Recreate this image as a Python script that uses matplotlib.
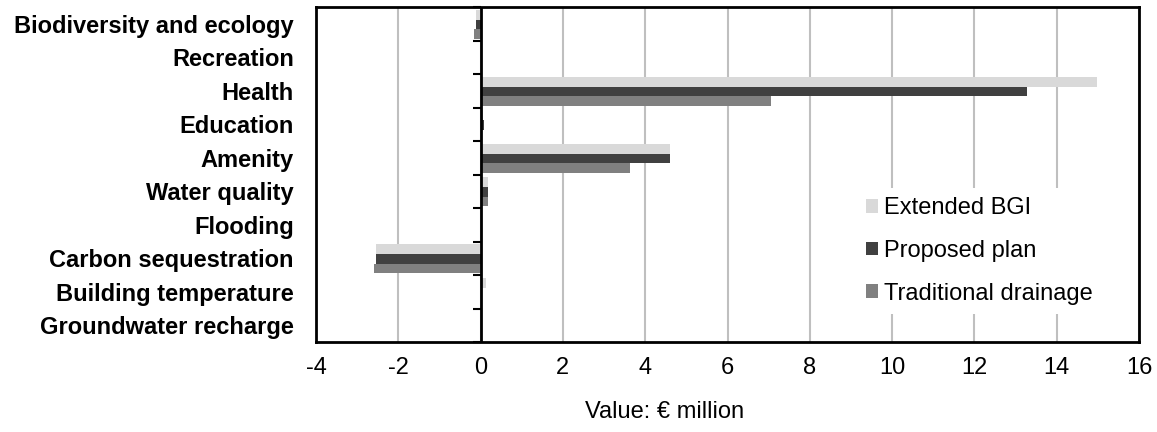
import matplotlib
matplotlib.use("Agg")
import matplotlib.pyplot as plt
from matplotlib.patches import Patch
import numpy as np

plt.rcParams['font.family'] = ['Liberation Sans', 'DejaVu Sans']

# categories, top to bottom
categories = ['Biodiversity and ecology', 'Recreation', 'Health', 'Education', 'Amenity',
              'Water quality', 'Flooding', 'Carbon sequestration', 'Building temperature',
              'Groundwater recharge']
# values in EUR million
extended_bgi = [-0.12, 0.0, 14.98, 0.05, 4.6, 0.17, 0.0, -2.55, 0.12, 0.0]
proposed_plan = [-0.11, 0.0, 13.28, 0.08, 4.6, 0.17, 0.0, -2.55, 0.0, 0.0]
traditional = [-0.17, 0.0, 7.05, 0.0, 3.62, 0.17, 0.0, -2.6, 0.0, 0.0]

series_names = ['Extended BGI', 'Proposed plan', 'Traditional drainage']
series_colors = ['#D9D9D9', '#404040', '#808080']
xticks = [-4, -2, 0, 2, 4, 6, 8, 10, 12, 14, 16]

FS = 17
W, H = 1157, 432
fig = plt.figure(figsize=(W / 100, H / 100), dpi=100)
ax = fig.add_axes([316 / W, 1 - 342 / H, (1139 - 316) / W, (342 - 7) / H])

y = np.arange(len(categories))
bh = 0.29
for k, (vals, col) in enumerate(zip([extended_bgi, proposed_plan, traditional], series_colors)):
    ax.barh(y + (k - 1) * bh + 0.02, vals, height=bh, color=col, zorder=3)

ax.set_xlim(-4, 16)
ax.set_ylim(len(categories) - 0.5, -0.5)
ax.set_xticks(xticks)
ax.set_xticklabels([str(t) for t in xticks])
ax.set_yticks(y)
ax.set_yticklabels(categories, fontweight='bold')
ax.tick_params(axis='y', length=0, pad=16, labelsize=FS)
ax.tick_params(axis='x', length=0, pad=11, labelsize=FS)
ax.grid(axis='x', color='#BFBFBF', linewidth=1.5, zorder=0)
ax.set_axisbelow(True)
for s in ax.spines.values():
    s.set_linewidth(2)
    s.set_color('black')

# category axis at x = 0, with tick marks between the categories
bounds = np.arange(len(categories) + 1) - 0.5
ax.axvline(0, color='black', linewidth=2, zorder=10)
ax.plot(np.zeros(len(bounds)), bounds, linestyle='none', marker=0, markersize=6,
        markeredgewidth=1.5, color='black', zorder=4, clip_on=False)

handles = [Patch(facecolor=c, edgecolor='none', label=n) for n, c in zip(series_names, series_colors)]
leg = fig.legend(handles=handles, loc='upper left', bbox_to_anchor=(857 / W, 1 - 188 / H),
                 fontsize=FS, frameon=True, facecolor='white', edgecolor='none', framealpha=1,
                 fancybox=False, borderpad=0.4, handlelength=0.5, handleheight=0.5,
                 handletextpad=0.25, labelspacing=0.87, borderaxespad=0)
leg.set_zorder(5)

fig.text(665 / W, 1 - 412 / H, 'Value: € million', ha='center', va='center', fontsize=FS)

fig.savefig('out.png', dpi=100)
